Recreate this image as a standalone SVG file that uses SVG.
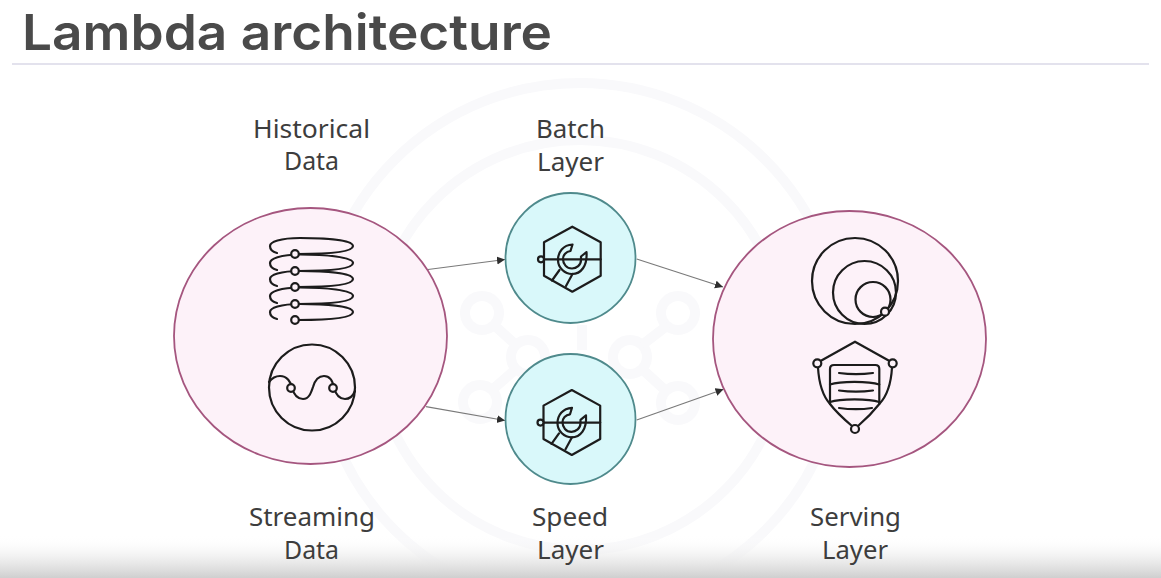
<svg xmlns="http://www.w3.org/2000/svg" xmlns:xlink="http://www.w3.org/1999/xlink" width="1161" height="578" viewBox="0 0 1161 578">
<style>
.lbl{font-family:"Noto Sans","Liberation Sans",sans-serif;font-size:25px;fill:#3d3d3d;text-anchor:start}
.title{font-family:"Inter","Liberation Sans",sans-serif;font-size:50px;font-weight:600;fill:#4a4a4a}
.pink{fill:#fdf2f9;stroke:#a5567f;stroke-width:1.8}
.teal{fill:#d9f8fa;stroke:#4f8a8c;stroke-width:1.8}
.ic{fill:none;stroke:#1c1c1c;stroke-width:2.2;stroke-linejoin:round;stroke-linecap:round}
.dot{stroke:#1c1c1c;stroke-width:2.2}
.wm{fill:none;stroke:#f9f9fb;stroke-width:10}
.conn{fill:none;stroke:#7a7a7a;stroke-width:1.2;marker-end:url(#ah)}
</style>
<defs>
<marker id="ah" markerUnits="userSpaceOnUse" markerWidth="9" markerHeight="9" refX="8" refY="4" orient="auto"><path d="M0 0L8 4L0 8Z" fill="#2e2e2e"/></marker>
<linearGradient id="fade" x1="0" y1="0" x2="0" y2="1"><stop offset="0" stop-color="#fff" stop-opacity="0"/><stop offset="0.6" stop-color="#e8e8e8" stop-opacity="0.85"/><stop offset="1" stop-color="#cfcfcf"/></linearGradient>
<g id="wrench">
<path d="M572.3 226.7L600.7 242.3V275.7L572.3 291.7L544 275.7V242.3Z"/>
<path d="M544 259.3H600.7"/>
<path d="M572.5 244.500C563 245 558 252 558 260C558 268 565 274 572 274C581 274 587.500 266 586.500 252L581 256.500V260C581 265 576.500 268.500 572 268.500C566.500 268.500 563 264 563 259C563 255 566 251.500 570.500 251Z"/>
<path d="M559.500 270L552 280.500M572.500 274L566 286"/>
<circle cx="541" cy="259.3" r="3" fill="#d9f8fa"/>
</g>
</defs>
<rect width="1161" height="578" fill="#fff"/>
<g id="watermark">
<circle class="wm" cx="580" cy="345" r="262"/>
<circle class="wm" cx="580" cy="345" r="205"/>
<circle class="wm" cx="482" cy="313" r="17"/>
<circle class="wm" cx="678" cy="313" r="17"/>
<circle class="wm" cx="480" cy="402" r="17"/>
<circle class="wm" cx="678" cy="403" r="17"/>
<circle class="wm" cx="528" cy="357" r="17"/>
<circle class="wm" cx="630" cy="357" r="17"/>
<path class="wm" d="M494 325L516 345M668 325L642 345M492 390L516 369M666 391L642 369M582 325V350"/>
</g>
<rect id="bottom-fade" x="0" y="535" width="1161" height="43" fill="url(#fade)"/>
<g id="title"><text class="title" x="22" y="50" textLength="530" lengthAdjust="spacingAndGlyphs">Lambda architecture</text>
<line x1="12" y1="64" x2="1149" y2="64" stroke="#c8c5dc" stroke-width="1.2"/></g>
<g id="connectors">
<path class="conn" d="M428 269.5L505 259.5"/>
<path class="conn" d="M426 406.7L505 420.5"/>
<path class="conn" d="M636.7 259L723 287"/>
<path class="conn" d="M636.7 420L723.5 389.3"/>
</g>
<g id="historical-streaming">
<ellipse class="pink" cx="310.5" cy="336" rx="136.5" ry="128"/>
<path class="ic" d="M298 254C330 254 353 252 353 246C353 240 325 238 300 238C280 238 270 242 270 246C270 250 273 252 277 253"/>
<path class="ic" d="M298 271C330 271 353 269 353 263C353 257 325 254.500 300 254.500C280 254.500 270 259 270 263C270 267 273 269 277 270"/>
<path class="ic" d="M298 287C330 287 353 285 353 279C353 273 325 271 300 271C280 271 270 275 270 279C270 283 273 285 277 286"/>
<path class="ic" d="M298 304C330 304 353 302 353 296C353 290 325 287.500 300 287.500C280 287.500 270 292 270 296C270 300 273 302 277 303"/>
<path class="ic" d="M298 320C330 320 353 318 353 312C353 306 325 304 300 304C280 304 270 308 270 312C270 316 273 318 277 319"/>
<circle class="dot" cx="295" cy="254" r="3.800" fill="#fdf2f9"/>
<circle class="dot" cx="295" cy="271" r="3.800" fill="#fdf2f9"/>
<circle class="dot" cx="295" cy="287" r="3.800" fill="#fdf2f9"/>
<circle class="dot" cx="295" cy="304" r="3.800" fill="#fdf2f9"/>
<circle class="dot" cx="295" cy="320" r="3.800" fill="#fdf2f9"/>
<circle class="ic" cx="312" cy="387.500" r="43"/>
<path class="ic" d="M269 382C272 378 276 376 280 376C287 376 291 382 292 388C294 395 298 399 303 399C309 399 311 393 313 387C315 380 319 376 324 376C330 376 333 382 334 388C336 395 340 399 345 399C350 399 353 396 355 391"/>
<circle class="dot" cx="291" cy="388" r="3.800" fill="#fdf2f9"/>
<circle class="dot" cx="333" cy="388" r="3.800" fill="#fdf2f9"/>
<text class="lbl" x="253" y="138" textLength="117" lengthAdjust="spacingAndGlyphs">Historical</text>
<text class="lbl" x="284" y="170" textLength="55" lengthAdjust="spacingAndGlyphs">Data</text>
<text class="lbl" x="249" y="526" textLength="126" lengthAdjust="spacingAndGlyphs">Streaming</text>
<text class="lbl" x="284" y="559" textLength="55" lengthAdjust="spacingAndGlyphs">Data</text>
</g>
<g id="batch-layer">
<circle class="teal" cx="570.500" cy="258" r="65"/>
<use href="#wrench" class="ic"/>
<text class="lbl" x="536" y="138" textLength="69" lengthAdjust="spacingAndGlyphs">Batch</text>
<text class="lbl" x="537" y="171" textLength="67" lengthAdjust="spacingAndGlyphs">Layer</text>
</g>
<g id="speed-layer">
<circle class="teal" cx="570.500" cy="419" r="65"/>
<use href="#wrench" class="ic" transform="translate(-0.5 163.3)"/>
<text class="lbl" x="532" y="526" textLength="76" lengthAdjust="spacingAndGlyphs">Speed</text>
<text class="lbl" x="537" y="559" textLength="67" lengthAdjust="spacingAndGlyphs">Layer</text>
</g>
<g id="serving-layer">
<ellipse class="pink" cx="849.500" cy="339" rx="136.500" ry="128"/>
<circle class="ic" cx="855" cy="281" r="43"/>
<circle class="ic" cx="864.500" cy="292.500" r="31.500"/>
<circle class="ic" cx="873" cy="299.500" r="17.500"/>
<circle class="dot" cx="885" cy="311.700" r="4" fill="#fdf2f9"/>
<path class="ic" d="M820.500 361L855 341.700L889.500 361"/>
<path class="ic" d="M818 367.500C819 385 823 396 830 404C836 412 845 420 852 426M892 367.500C891 385 887 396 879.300 404C873 412 865 420 858 426"/>
<path class="ic" d="M830 404V369Q830 365 834 365H875.300Q879.300 365 879.300 369V404"/>
<path class="ic" d="M830 384.500C840 381 869 381 879.300 384.500M830 402C840 398.500 869 398.500 879.300 402"/>
<path class="ic" d="M839 373C850 374.500 862 374.500 873 373M839 390.500C850 392 862 392 873 390.500M839 408C850 409.500 862 409.500 872 408"/>
<circle class="dot" cx="817.300" cy="363.300" r="4" fill="#fdf2f9"/>
<circle class="dot" cx="892.700" cy="363.300" r="4" fill="#fdf2f9"/>
<circle class="dot" cx="855" cy="429" r="4" fill="#fdf2f9"/>
<text class="lbl" x="810" y="526" textLength="91" lengthAdjust="spacingAndGlyphs">Serving</text>
<text class="lbl" x="822" y="559" textLength="66" lengthAdjust="spacingAndGlyphs">Layer</text>
</g>
</svg>
